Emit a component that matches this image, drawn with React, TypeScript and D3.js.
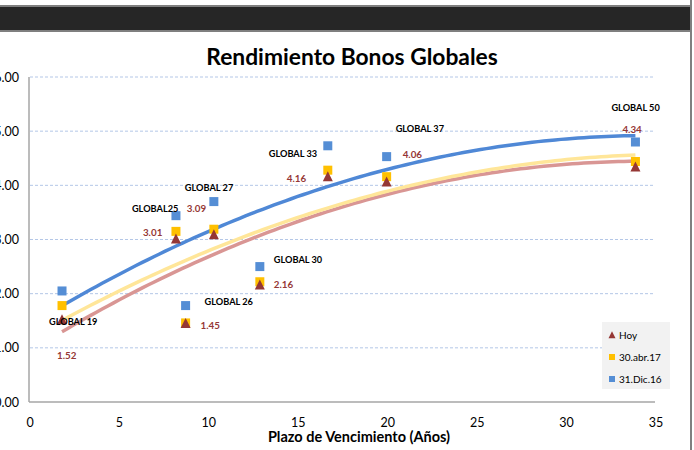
import React from "react";
import * as d3 from "d3";

const bonds = ["GLOBAL 19", "GLOBAL25", "GLOBAL 27", "GLOBAL 26", "GLOBAL 30", "GLOBAL 33", "GLOBAL 37", "GLOBAL 50"];
const plazo = [1.79, 8.16, 10.28, 8.7, 12.85, 16.65, 19.94, 33.85];
const hoy = [1.52, 3.01, 3.09, 1.45, 2.16, 4.16, 4.06, 4.34];
const abr17 = [1.78, 3.15, 3.19, 1.46, 2.22, 4.28, 4.16, 4.44];
const dic16 = [2.05, 3.44, 3.70, 1.78, 2.50, 4.73, 4.53, 4.80];
const xTicks = [0, 5, 10, 15, 20, 25, 30, 35];
const yTicks = [0, 1, 2, 3, 4, 5, 6];
const seriesNames = ["Hoy", "30.abr.17", "31.Dic.16"];

// label layout offsets (px) relative to the markers
const nameOffsets = [[-13, 34], [-44, -4], [-29, -11], [19, -1], [14, -4], [-59, 11], [9, -25], [-24, -31]];
const valueOffsets = [[-5, 39], [-33, -3], [-27, -23], [15, 6], [14, 3], [-41, 5], [16, -24], [-13, -34]];

function quadFit(xs: number[], ys: number[]) {
  // least squares y = a + b x + c x^2
  let s0 = xs.length, s1 = 0, s2 = 0, s3 = 0, s4 = 0, t0 = 0, t1 = 0, t2 = 0;
  xs.forEach((x, i) => {
    const y = ys[i];
    s1 += x; s2 += x * x; s3 += x ** 3; s4 += x ** 4;
    t0 += y; t1 += x * y; t2 += x * x * y;
  });
  const M = [[s0, s1, s2, t0], [s1, s2, s3, t1], [s2, s3, s4, t2]];
  for (let i = 0; i < 3; i++) {
    for (let k = i + 1; k < 3; k++) {
      const f = M[k][i] / M[i][i];
      for (let j = i; j < 4; j++) M[k][j] -= f * M[i][j];
    }
  }
  const r = [0, 0, 0];
  for (let i = 2; i >= 0; i--) {
    let s = M[i][3];
    for (let j = i + 1; j < 3; j++) s -= M[i][j] * r[j];
    r[i] = s / M[i][i];
  }
  return (x: number) => r[0] + r[1] * x + r[2] * x * x;
}

export default function App() {
  const W = 694, H = 450;
  const x = d3.scaleLinear().domain([0, 35]).range([30, 656]);
  const y = d3.scaleLinear().domain([0, 6]).range([402, 77]);
  const xmin = d3.min(plazo)!, xmax = d3.max(plazo)!;
  const samples = d3.range(0, 101).map((i) => xmin + (xmax - xmin) * i / 100);
  const line = d3.line<[number, number]>().x((d) => x(d[0])).y((d) => y(d[1]));
  const trend = (vals: number[]) => {
    const f = quadFit(plazo, vals);
    return line(samples.map((s) => [s, f(s)] as [number, number])) || "";
  };
  const font = "Lato, 'Open Sans', sans-serif";
  const red = "#953735", yellow = "#FFC000", blue = "#558ED5";
  const tri = (cx: number, cy: number, s: number) =>
    `M${cx},${cy - s * 0.55} L${cx + s / 2},${cy + s * 0.45} L${cx - s / 2},${cy + s * 0.45} Z`;

  return (
    <svg width={W} height={H} style={{ position: "absolute", left: 0, top: 0, background: "#fff" }} fontFamily={font}>
      <rect x={0} y={0} width={W} height={H} fill="#fff" />
      {/* top dark band */}
      <rect x={0} y={5} width={692} height={27} fill="#7F7F7F" />
      <rect x={0} y={7} width={692} height={23} fill="#262626" />
      <rect x={690} y={0} width={2} height={H} fill="#808080" />

      <text x={352} y={65} textAnchor="middle" fontSize={22.8} fontWeight="bold" fill="#000">
        Rendimiento Bonos Globales
      </text>

      {/* grid */}
      {yTicks.filter((t) => t > 0).map((t) => (
        <line key={t} x1={30} x2={655} y1={y(t)} y2={y(t)} stroke="#B4C7E7" strokeWidth={1} strokeDasharray="3,2" />
      ))}
      <line x1={29} x2={29} y1={77} y2={402} stroke="#A6A6A6" strokeWidth={1.5} />
      <line x1={29} x2={655} y1={402} y2={402} stroke="#A6A6A6" strokeWidth={1.5} />

      {yTicks.map((t) => (
        <text key={t} x={19} y={y(t) + 4.5} textAnchor="end" fontSize={12.5} fill="#000">
          {d3.format(".2f")(t)}
        </text>
      ))}
      {xTicks.map((t) => (
        <text key={t} x={x(t)} y={427} textAnchor="middle" fontSize={12.5} fill="#000">
          {t}
        </text>
      ))}
      <text x={359} y={442} textAnchor="middle" fontSize={14.5} fontWeight="bold" fill="#000">
        Plazo de Vencimiento  (Años)
      </text>

      {/* trend lines */}
      <path d={trend(hoy)} fill="none" stroke="#D99694" strokeWidth={3.5} />
      <path d={trend(abr17)} fill="none" stroke="#FFE699" strokeWidth={3.5} />
      <path d={trend(dic16)} fill="none" stroke="#4F88D6" strokeWidth={3.5} />

      {/* markers */}
      {plazo.map((p, i) => (
        <g key={i}>
          <rect x={x(p) - 4.5} y={y(dic16[i]) - 4.5} width={9} height={9} fill={blue} />
          <rect x={x(p) - 4.5} y={y(abr17[i]) - 4.5} width={9} height={9} fill={yellow} />
          <path d={tri(x(p), y(hoy[i]), 10)} fill={red} />
        </g>
      ))}

      {/* labels */}
      {bonds.map((b, i) => (
        <text key={"n" + i} x={x(plazo[i]) + nameOffsets[i][0]} y={y(dic16[i]) + nameOffsets[i][1]}
          fontSize={9.2} fontWeight="bold" fill="#000">
          {b}
        </text>
      ))}
      {hoy.map((v, i) => (
        <text key={"v" + i} x={x(plazo[i]) + valueOffsets[i][0]} y={y(v) + valueOffsets[i][1]}
          fontSize={9.8} fontWeight="bold" fill={red}>
          {d3.format(".2f")(v)}
        </text>
      ))}

      {/* legend */}
      <rect x={602} y={322} width={68} height={67} fill="#F2F2F2" />
      <path d={tri(612, 335, 7)} fill={red} />
      <text x={619} y={339} fontSize={10} fill="#000">{seriesNames[0]}</text>
      <rect x={609} y={354} width={6} height={6} fill={yellow} />
      <text x={619} y={361} fontSize={10} fill="#000">{seriesNames[1]}</text>
      <rect x={609} y={376} width={6} height={6} fill={blue} />
      <text x={619} y={383} fontSize={10} fill="#000">{seriesNames[2]}</text>
    </svg>
  );
}
